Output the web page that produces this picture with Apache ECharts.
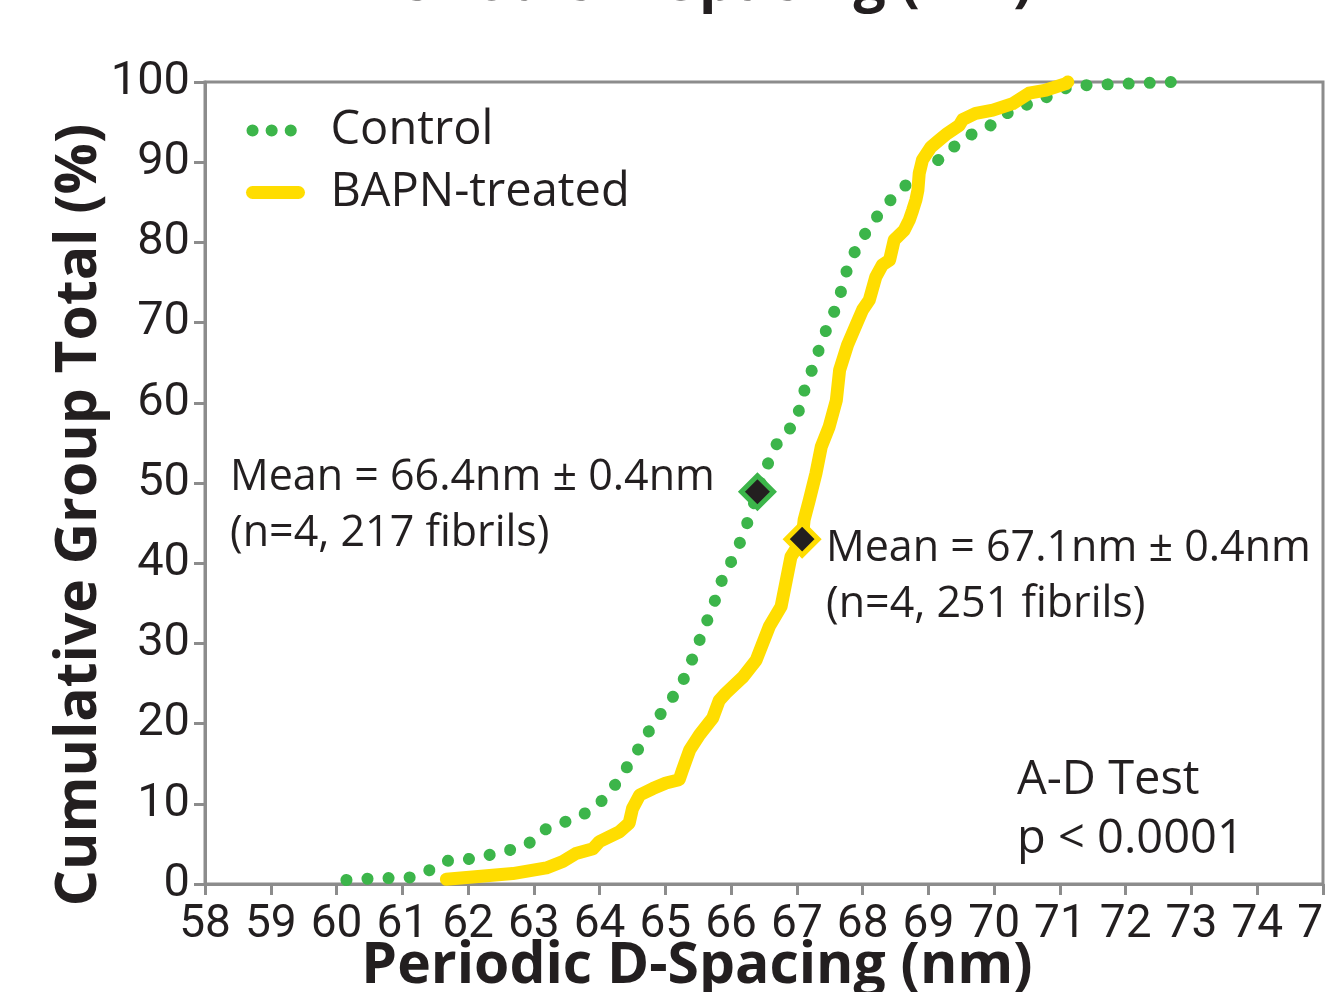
<!DOCTYPE html>
<html>
<head>
<meta charset="utf-8">
<script src="https://cdn.jsdelivr.net/npm/echarts@6/dist/echarts.min.js"></script>
<style>
  html, body { margin: 0; padding: 0; background: #fff; }
  #chart { width: 1325px; height: 992px; }
</style>
</head>
<body>
<div id="chart"></div>
<script>
// Control (dotted green) cumulative curve
var controlX = [60.15, 60.48, 60.81, 61.14, 61.40, 61.66, 61.99, 62.30, 62.62, 62.91,
    63.14, 63.43, 63.74, 63.99, 64.19, 64.35, 64.52, 64.68, 64.86, 65.03,
    65.23, 65.36, 65.48, 65.58, 65.72, 65.80, 65.93, 66.08, 66.19, 66.30,
    66.40, 66.51, 66.62, 66.76, 67.00, 67.05, 67.16, 67.27, 67.37, 67.48,
    67.62, 67.70, 67.79, 67.93, 68.09, 68.28, 68.47, 68.69, 68.89, 69.18,
    69.40, 69.64, 69.93, 70.17, 70.47, 70.77, 71.07, 71.39, 71.71, 72.04,
    72.37, 72.70];
var controlY = [0.5, 0.66, 0.75, 0.83, 1.66, 2.87, 3.08, 3.58, 4.2, 4.95,
    6.7, 7.6, 8.6, 10.0, 11.8, 13.8, 15.8, 18.2, 20.4, 22.4,
    24.6, 27.1, 29.4, 31.9, 34.3, 36.8, 39.1, 41.4, 43.8, 46.2,
    48.9, 51.3, 53.7, 55.9, 57.5, 60.0, 62.6, 65.0, 67.5, 69.8,
    72.3, 74.8, 77.4, 79.6, 81.8, 83.9, 85.7, 87.4, 89.2, 90.4,
    92.0, 93.4, 94.5, 96.0, 97.1, 98.0, 99.2, 99.6, 99.7, 99.8,
    99.9, 100];

// BAPN-treated (solid yellow) cumulative curve
var bapnX = [61.67, 62.68, 63.19, 63.44, 63.64, 63.90, 64.00, 64.30, 64.45, 64.50,
    64.61, 64.81, 65.01, 65.21, 65.26, 65.37, 65.52, 65.72, 65.82, 65.92,
    66.18, 66.38, 66.48, 66.58, 66.76, 66.84, 66.91, 67.08, 67.11, 67.19,
    67.29, 67.37, 67.49, 67.60, 67.65, 67.77, 67.90, 68.00, 68.10, 68.20,
    68.30, 68.41, 68.48, 68.63, 68.71, 68.76, 68.81, 68.84, 68.86, 68.91,
    69.04, 69.17, 69.29, 69.47, 69.52, 69.72, 69.98, 70.28, 70.53, 70.79,
    71.09, 71.12];
var bapnY = [0.6, 1.3, 2.0, 2.8, 3.8, 4.4, 5.3, 6.5, 7.6, 9.4,
    11.1, 11.9, 12.6, 13.0, 14.2, 16.7, 18.6, 20.7, 22.9, 23.8,
    25.8, 27.9, 30.0, 32.1, 34.6, 37.9, 40.8, 43.0, 45.4, 47.9,
    51.2, 54.5, 57.0, 60.3, 64.1, 67.2, 69.7, 71.6, 72.8, 75.7,
    77.2, 77.8, 80.3, 81.5, 82.8, 84.0, 85.3, 86.5, 88.6, 90.3,
    91.9, 92.8, 93.6, 94.6, 95.3, 96.1, 96.5, 97.3, 98.6, 99.0,
    99.8, 100];

// group means [x, cumulative %]
var meanControl = [66.4, 48.9];
var meanBapn = [67.08, 43.0];

var xMin = 58, xMax = 75, xStep = 1;
var yMin = 0, yMax = 100, yStep = 10;

var green = '#3cb54a';
var yellow = '#ffdd00';
var axisGray = '#8c8c8c';
var ink = '#231f20';
var txtFont = "'Open Sans', 'Noto Sans', sans-serif";
var numFont = "Roboto, 'Noto Sans', sans-serif";

function pairs(xs, ys) {
    return xs.map(function (x, i) { return [x, ys[i]]; });
}

var myChart = echarts.init(document.getElementById('chart'));

var option = {
    animation: false,
    backgroundColor: '#fff',
    grid: {
        left: 205,
        right: 2,
        top: 82,
        bottom: 108,
        outerBoundsMode: 'none',
        containLabel: false,
        show: true,
        borderColor: axisGray,
        borderWidth: 3
    },
    legend: {
        left: 246,
        top: 107,
        padding: 0,
        orient: 'vertical',
        itemWidth: 46,
        itemHeight: 12,
        itemGap: 15,
        textStyle: {
            fontFamily: txtFont,
            fontSize: 47,
            color: ink,
            padding: [0, 0, 0, 27]
        },
        lineStyle: { width: 13, cap: 'round' },
        itemStyle: { opacity: 0 },
        data: [
            { name: 'Control', lineStyle: { type: [0.1, 19], width: 12, cap: 'round' } },
            { name: 'BAPN-treated' }
        ]
    },
    xAxis: {
        type: 'value',
        min: xMin,
        max: xMax,
        interval: xStep,
        axisLine: { show: true, lineStyle: { color: axisGray, width: 3 } },
        axisTick: { show: true, length: 11, lineStyle: { color: axisGray, width: 3 } },
        axisLabel: {
            color: ink,
            fontFamily: numFont,
            fontSize: 46,
            margin: 18,
            showMaxLabel: true,
            hideOverlap: false
        },
        splitLine: { show: false }
    },
    yAxis: {
        type: 'value',
        min: yMin,
        max: yMax,
        interval: yStep,
        axisLine: { show: true, lineStyle: { color: axisGray, width: 3 } },
        axisTick: { show: true, length: 11, lineStyle: { color: axisGray, width: 3 } },
        axisLabel: {
            color: ink,
            fontFamily: numFont,
            fontSize: 47,
            margin: 15,
            padding: [0, 0, 8, 0]
        },
        splitLine: { show: false }
    },
    series: [
        {
            name: 'Control',
            type: 'line',
            data: pairs(controlX, controlY),
            symbol: 'none',
            clip: false,
            color: green,
            lineStyle: { color: green, width: 12, type: [0.1, 21], cap: 'round' },
            z: 2
        },
        {
            name: 'BAPN-treated',
            type: 'line',
            data: pairs(bapnX, bapnY),
            symbol: 'none',
            clip: false,
            color: yellow,
            lineStyle: { color: yellow, width: 13, cap: 'round', join: 'round' },
            z: 3
        },
        {
            name: 'meanControl',
            type: 'scatter',
            data: [meanControl],
            symbol: 'diamond',
            symbolSize: 32,
            clip: false,
            itemStyle: { color: ink, borderColor: green, borderWidth: 5, opacity: 1 },
            z: 5
        },
        {
            name: 'meanBapn',
            type: 'scatter',
            data: [meanBapn],
            symbol: 'diamond',
            symbolSize: 32,
            clip: false,
            itemStyle: { color: ink, borderColor: yellow, borderWidth: 5, opacity: 1 },
            z: 5
        }
    ],
    graphic: [
        // cut-off title at the very top
        { type: 'text', x: 697, y: -16, style: { text: 'Periodic D-Spacing (nm)', fontFamily: txtFont, fontWeight: 'bold', fontSize: 57, fill: ink, align: 'center', verticalAlign: 'middle' } },
        // axis titles
        { type: 'text', x: 697, y: 967, style: { text: 'Periodic D-Spacing (nm)', fontFamily: txtFont, fontWeight: 'bold', fontSize: 57, fill: ink, align: 'center', verticalAlign: 'middle' } },
        { type: 'text', x: 80, y: 515, rotation: Math.PI / 2, style: { text: 'Cumulative Group Total (%)', fontFamily: txtFont, fontWeight: 'bold', fontSize: 57, fill: ink, align: 'center', verticalAlign: 'middle' } },
        // mean annotations
        { type: 'text', x: 230, y: 478, style: { text: 'Mean = 66.4nm ± 0.4nm', fontFamily: txtFont, fontSize: 43, fill: ink, verticalAlign: 'middle' } },
        { type: 'text', x: 230, y: 534, style: { text: '(n=4, 217 fibrils)', fontFamily: txtFont, fontSize: 43, fill: ink, verticalAlign: 'middle' } },
        { type: 'text', x: 826, y: 549, style: { text: 'Mean = 67.1nm ± 0.4nm', fontFamily: txtFont, fontSize: 43, fill: ink, verticalAlign: 'middle' } },
        { type: 'text', x: 826, y: 605, style: { text: '(n=4, 251 fibrils)', fontFamily: txtFont, fontSize: 43, fill: ink, verticalAlign: 'middle' } },
        // test result
        { type: 'text', x: 1017, y: 781, style: { text: 'A-D Test', fontFamily: txtFont, fontSize: 47, fill: ink, verticalAlign: 'middle' } },
        { type: 'text', x: 1017, y: 840, style: { text: 'p < 0.0001', fontFamily: txtFont, fontSize: 47, fill: ink, verticalAlign: 'middle' } }
    ]
};

myChart.setOption(option);

// stretch the dot spacing a little so a dot sits on both ends of the control curve
(function () {
    var len = 0, prev = null;
    controlX.forEach(function (x, i) {
        var p = myChart.convertToPixel({ gridIndex: 0 }, [x, controlY[i]]);
        if (prev) len += Math.hypot(p[0] - prev[0], p[1] - prev[1]);
        prev = p;
    });
    var n = Math.max(1, Math.round(len / 21));
    var period = (len - 1) / n;
    myChart.setOption({
        series: [{ name: 'Control', lineStyle: { type: [0.1, period - 0.1] } }]
    });
})();

window.addEventListener('resize', function () {
    myChart.resize();
});
</script>
</body>
</html>
